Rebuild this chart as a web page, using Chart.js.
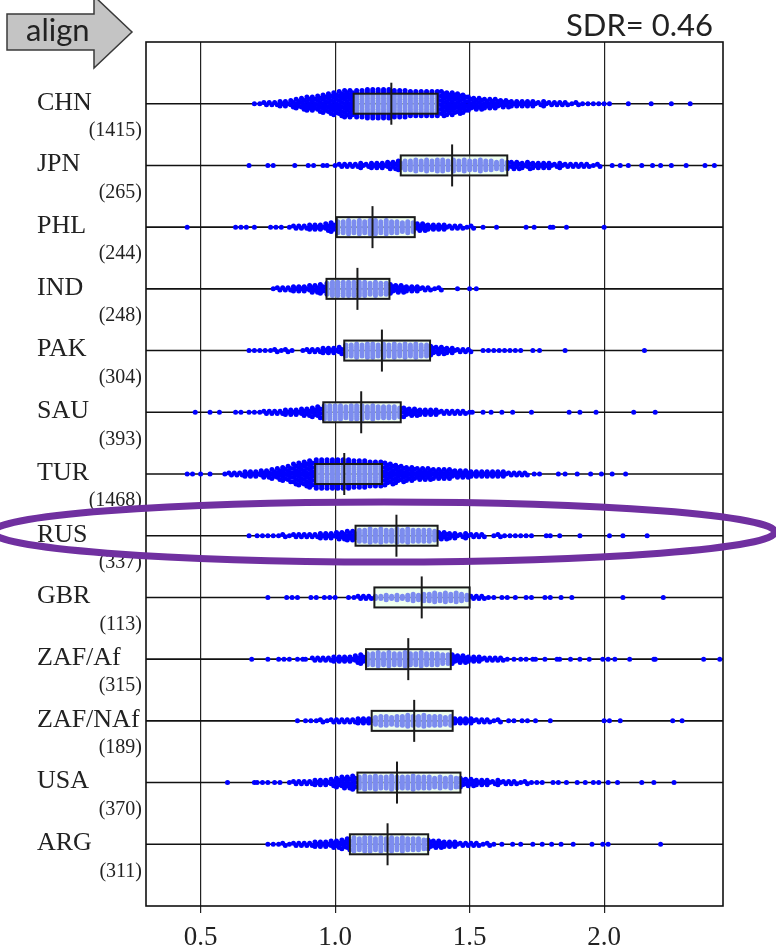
<!DOCTYPE html>
<html>
<head>
<meta charset="utf-8">
<script src="https://cdn.jsdelivr.net/npm/chart.js@4.4.1/dist/chart.umd.min.js"></script>
<style>
  html, body { margin: 0; padding: 0; background: #fff; }
  #wrap { position: relative; width: 776px; height: 948px; }
</style>
</head>
<body>
<div id="wrap"><canvas id="chart" width="776" height="948"></canvas></div>
<script>
// Row labels and sample sizes, top to bottom
const countries = ['CHN', 'JPN', 'PHL', 'IND', 'PAK', 'SAU', 'TUR', 'RUS', 'GBR', 'ZAF/Af', 'ZAF/NAf', 'USA', 'ARG'];
const sampleSizes = ['(1415)', '(265)', '(244)', '(248)', '(304)', '(393)', '(1468)', '(337)', '(113)', '(315)', '(189)', '(370)', '(311)'];

// Box plot stats per row
const q1      = [1.069, 1.244, 1.006, 0.968, 1.034, 0.956, 0.926, 1.076, 1.146, 1.115, 1.136, 1.083, 1.055];
const medians = [1.209, 1.435, 1.139, 1.083, 1.174, 1.097, 1.034, 1.228, 1.322, 1.272, 1.294, 1.230, 1.195];
const q3      = [1.381, 1.640, 1.296, 1.202, 1.353, 1.244, 1.174, 1.381, 1.500, 1.430, 1.437, 1.466, 1.346];

const xTicks = [0.5, 1.0, 1.5, 2.0];
const sdrLabel = 'SDR= 0.46';
const arrowLabel = 'align';

// Dot stacks: [value, number of dots stacked at that value]
const chnDots = [[0.70,1],[0.72,1],[0.74,2],[0.76,2],[0.78,2],[0.80,3],[0.82,3],[0.84,4],[0.86,5],[0.88,6],[0.90,7],[0.92,7],[0.94,8],[0.96,9],[0.98,10],[1.00,11],[1.02,12],[1.04,13],[1.06,13],[1.08,13],[1.10,13],[1.12,14],[1.14,14],[1.16,14],[1.18,14],[1.20,14],[1.22,13],[1.24,13],[1.26,13],[1.28,12],[1.30,12],[1.32,12],[1.34,12],[1.36,12],[1.38,12],[1.40,12],[1.42,11],[1.44,11],[1.46,10],[1.48,9],[1.50,7],[1.52,6],[1.54,6],[1.56,5],[1.58,5],[1.60,5],[1.62,4],[1.64,4],[1.66,3],[1.68,3],[1.70,3],[1.72,3],[1.74,3],[1.76,2],[1.78,3],[1.80,2],[1.82,2],[1.84,2],[1.86,2],[1.88,1],[1.90,2],[1.92,1],[1.94,1],[1.96,1],[1.98,1],[2.00,1],[2.02,1],[2.09,1],[2.175,1],[2.25,1],[2.32,1]];
const jpnDots = [[0.68,1],[0.75,1],[0.77,1],[0.85,1],[0.90,1],[0.92,1],[0.955,1],[0.97,1],[1.00,1],[1.02,2],[1.04,2],[1.06,2],[1.08,2],[1.10,3],[1.12,2],[1.14,3],[1.16,3],[1.18,3],[1.20,4],[1.22,4],[1.24,5],[1.26,5],[1.28,5],[1.30,6],[1.32,5],[1.34,6],[1.36,5],[1.38,6],[1.40,6],[1.42,5],[1.44,6],[1.46,5],[1.48,6],[1.50,5],[1.52,5],[1.54,6],[1.56,5],[1.58,5],[1.60,4],[1.62,5],[1.64,4],[1.66,4],[1.68,4],[1.70,3],[1.72,4],[1.74,3],[1.76,3],[1.78,3],[1.80,3],[1.82,2],[1.84,3],[1.86,2],[1.88,2],[1.90,2],[1.92,2],[1.94,2],[1.96,1],[1.98,2],[2.03,1],[2.06,1],[2.09,1],[2.14,1],[2.18,1],[2.21,1],[2.25,1],[2.305,1],[2.375,1],[2.41,1]];
const phlDots = [[0.45,1],[0.63,1],[0.65,1],[0.67,1],[0.70,1],[0.76,1],[0.78,1],[0.80,1],[0.83,1],[0.85,2],[0.87,2],[0.89,2],[0.91,3],[0.93,3],[0.95,3],[0.97,4],[0.99,5],[1.01,6],[1.03,6],[1.05,7],[1.07,6],[1.09,7],[1.11,6],[1.13,7],[1.15,7],[1.17,6],[1.19,7],[1.21,6],[1.23,6],[1.25,5],[1.27,6],[1.29,5],[1.31,4],[1.33,4],[1.35,3],[1.37,3],[1.39,3],[1.41,3],[1.43,2],[1.45,2],[1.47,2],[1.49,1],[1.51,2],[1.55,1],[1.60,1],[1.71,1],[1.74,1],[1.80,1],[1.81,1],[1.86,1],[2.00,1]];
const indDots = [[0.77,1],[0.79,2],[0.81,2],[0.83,2],[0.85,3],[0.87,3],[0.89,3],[0.91,4],[0.93,4],[0.95,5],[0.97,6],[0.99,7],[1.01,7],[1.03,7],[1.05,7],[1.07,7],[1.09,7],[1.11,7],[1.13,6],[1.15,7],[1.17,6],[1.19,6],[1.21,5],[1.23,4],[1.25,4],[1.27,3],[1.29,3],[1.31,3],[1.33,2],[1.35,2],[1.37,1],[1.39,2],[1.455,1],[1.50,1],[1.525,1]];
const pakDots = [[0.68,1],[0.70,1],[0.72,1],[0.74,1],[0.76,1],[0.78,2],[0.80,1],[0.82,2],[0.84,1],[0.88,1],[0.90,2],[0.92,2],[0.94,2],[0.96,3],[0.98,3],[1.00,3],[1.02,4],[1.04,6],[1.06,6],[1.08,7],[1.10,6],[1.12,7],[1.14,7],[1.16,6],[1.18,7],[1.20,6],[1.22,7],[1.24,6],[1.26,7],[1.28,6],[1.30,7],[1.32,6],[1.34,6],[1.36,5],[1.38,4],[1.40,4],[1.42,3],[1.44,3],[1.46,2],[1.48,2],[1.50,2],[1.55,1],[1.57,1],[1.59,1],[1.61,1],[1.63,1],[1.65,1],[1.67,1],[1.69,1],[1.735,1],[1.76,1],[1.855,1],[2.15,1]];
const sauDots = [[0.48,1],[0.535,1],[0.57,1],[0.63,1],[0.65,1],[0.68,1],[0.70,1],[0.72,1],[0.74,2],[0.76,2],[0.78,2],[0.80,2],[0.82,3],[0.84,3],[0.86,3],[0.88,4],[0.90,4],[0.92,5],[0.94,6],[0.96,7],[0.98,7],[1.00,7],[1.02,7],[1.04,6],[1.06,7],[1.08,7],[1.10,7],[1.12,6],[1.14,7],[1.16,6],[1.18,6],[1.20,6],[1.22,6],[1.24,5],[1.26,5],[1.28,4],[1.30,4],[1.32,3],[1.34,3],[1.36,3],[1.38,3],[1.40,2],[1.42,2],[1.44,2],[1.46,2],[1.48,2],[1.50,1],[1.51,1],[1.55,1],[1.58,1],[1.62,1],[1.66,1],[1.73,1],[1.87,1],[1.91,1],[1.97,1],[2.11,1],[2.19,1]];
const turDots = [[0.45,1],[0.47,1],[0.50,1],[0.535,1],[0.59,1],[0.61,2],[0.63,2],[0.65,2],[0.67,3],[0.69,3],[0.71,3],[0.73,4],[0.75,4],[0.77,5],[0.79,6],[0.81,7],[0.83,8],[0.85,10],[0.87,11],[0.89,12],[0.91,13],[0.93,14],[0.95,14],[0.97,14],[0.99,14],[1.01,14],[1.03,14],[1.05,14],[1.07,13],[1.09,13],[1.11,13],[1.13,12],[1.15,12],[1.17,12],[1.19,11],[1.21,10],[1.23,9],[1.25,8],[1.27,7],[1.29,7],[1.31,6],[1.33,6],[1.35,6],[1.37,5],[1.39,5],[1.41,5],[1.43,5],[1.45,4],[1.47,4],[1.49,4],[1.51,3],[1.53,3],[1.55,3],[1.57,3],[1.59,3],[1.61,3],[1.63,3],[1.65,2],[1.67,2],[1.69,2],[1.71,2],[1.74,1],[1.76,1],[1.83,1],[1.855,1],[1.90,1],[1.95,1],[1.99,1],[2.03,1],[2.08,1]];
const rusDots = [[0.68,1],[0.71,1],[0.73,1],[0.75,1],[0.77,1],[0.79,1],[0.81,2],[0.83,1],[0.85,2],[0.87,2],[0.89,2],[0.91,2],[0.93,2],[0.95,3],[0.97,3],[0.99,3],[1.01,4],[1.03,4],[1.05,5],[1.07,5],[1.09,6],[1.11,6],[1.13,7],[1.15,6],[1.17,7],[1.19,6],[1.21,6],[1.23,7],[1.25,6],[1.27,7],[1.29,6],[1.31,6],[1.33,6],[1.35,6],[1.37,5],[1.39,4],[1.41,4],[1.43,3],[1.45,3],[1.47,2],[1.49,3],[1.51,2],[1.53,2],[1.55,2],[1.59,1],[1.61,2],[1.63,1],[1.65,1],[1.67,1],[1.69,1],[1.71,1],[1.73,1],[1.785,1],[1.80,1],[1.835,1],[1.91,1],[2.02,1],[2.07,1],[2.16,1]];
const gbrDots = [[0.75,1],[0.82,1],[0.84,1],[0.86,1],[0.91,1],[0.93,1],[0.96,1],[0.98,1],[1.00,1],[1.05,1],[1.07,1],[1.09,2],[1.11,2],[1.13,2],[1.15,2],[1.17,2],[1.19,3],[1.21,2],[1.23,3],[1.25,2],[1.27,3],[1.29,4],[1.31,3],[1.33,4],[1.35,4],[1.37,5],[1.39,4],[1.41,5],[1.43,4],[1.45,5],[1.47,4],[1.49,3],[1.51,2],[1.53,2],[1.55,2],[1.57,1],[1.59,1],[1.62,1],[1.64,1],[1.67,1],[1.71,1],[1.73,1],[1.78,1],[1.80,1],[1.84,1],[1.88,1],[2.07,1],[2.22,1]];
const zafAfDots = [[0.69,1],[0.75,1],[0.79,1],[0.81,1],[0.83,1],[0.86,1],[0.88,1],[0.89,1],[0.92,2],[0.94,2],[0.96,2],[0.98,2],[1.00,3],[1.02,3],[1.04,3],[1.06,3],[1.08,4],[1.10,5],[1.12,6],[1.14,6],[1.16,7],[1.18,6],[1.20,7],[1.22,6],[1.24,6],[1.26,7],[1.28,6],[1.30,6],[1.32,7],[1.34,6],[1.36,6],[1.38,6],[1.40,5],[1.42,5],[1.44,5],[1.46,4],[1.48,4],[1.50,3],[1.52,3],[1.54,3],[1.56,2],[1.58,2],[1.60,2],[1.62,2],[1.64,1],[1.665,1],[1.69,1],[1.71,1],[1.735,1],[1.745,1],[1.78,1],[1.825,1],[1.835,1],[1.875,1],[1.91,1],[1.945,1],[1.995,1],[2.015,1],[2.04,1],[2.095,1],[2.185,1],[2.19,1],[2.37,1],[2.43,1]];
const zafNAfDots = [[0.86,1],[0.89,1],[0.91,1],[0.93,1],[0.95,2],[0.97,1],[0.99,2],[1.01,2],[1.03,2],[1.05,2],[1.07,2],[1.09,3],[1.11,3],[1.13,3],[1.15,4],[1.17,5],[1.19,5],[1.21,4],[1.23,5],[1.25,5],[1.27,6],[1.29,5],[1.31,5],[1.33,6],[1.35,5],[1.37,5],[1.39,5],[1.41,4],[1.43,5],[1.45,3],[1.47,3],[1.49,3],[1.51,3],[1.53,2],[1.55,2],[1.57,2],[1.59,1],[1.61,2],[1.645,1],[1.665,1],[1.695,1],[1.715,1],[1.745,1],[1.80,1],[2.00,1],[2.02,1],[2.06,1],[2.255,1],[2.29,1]];
const usaDots = [[0.60,1],[0.70,1],[0.71,1],[0.73,1],[0.75,1],[0.775,1],[0.795,1],[0.83,1],[0.85,2],[0.87,2],[0.89,2],[0.91,2],[0.93,3],[0.95,3],[0.97,3],[0.99,4],[1.01,5],[1.03,6],[1.05,6],[1.07,7],[1.09,6],[1.11,7],[1.13,6],[1.15,7],[1.17,6],[1.19,6],[1.21,7],[1.23,6],[1.25,6],[1.27,6],[1.29,7],[1.31,6],[1.33,6],[1.35,6],[1.37,5],[1.39,6],[1.41,5],[1.43,6],[1.45,5],[1.47,5],[1.49,4],[1.51,4],[1.53,3],[1.55,3],[1.57,3],[1.59,2],[1.61,3],[1.63,2],[1.65,2],[1.67,2],[1.69,1],[1.71,2],[1.73,1],[1.75,1],[1.77,1],[1.81,1],[1.83,1],[1.86,1],[1.90,1],[1.93,1],[1.96,1],[1.98,1],[2.015,1],[2.05,1],[2.14,1],[2.185,1],[2.26,1]];
const argDots = [[0.75,1],[0.77,1],[0.79,1],[0.81,2],[0.83,1],[0.85,2],[0.87,2],[0.89,2],[0.91,2],[0.93,3],[0.95,3],[0.97,3],[0.99,4],[1.01,4],[1.03,5],[1.05,6],[1.07,7],[1.09,6],[1.11,7],[1.13,7],[1.15,6],[1.17,7],[1.19,6],[1.21,7],[1.23,6],[1.25,7],[1.27,6],[1.29,6],[1.31,6],[1.33,5],[1.35,5],[1.37,4],[1.39,4],[1.41,3],[1.43,3],[1.45,3],[1.47,2],[1.49,2],[1.51,2],[1.53,2],[1.55,1],[1.57,2],[1.59,1],[1.62,1],[1.66,1],[1.69,1],[1.735,1],[1.77,1],[1.805,1],[1.84,1],[1.885,1],[1.955,1],[1.995,1],[2.015,1],[2.21,1]];

const rowDots = [chnDots, jpnDots, phlDots, indDots, pakDots, sauDots, turDots, rusDots, gbrDots, zafAfDots, zafNAfDots, usaDots, argDots];

// Layout constants
const PLOT = { left: 146, right: 723, top: 42, bottom: 906 };
const X_MIN = 0.297, X_MAX = 2.442;
const Y_MIN = -1, Y_MAX = 13;
const STACK_PX = 2.2;     // vertical gap between stacked dots
const SHIFT_PX = 1.3;     // small side shift outside the box so stacks merge
const PX_PER_ROW = (PLOT.bottom - PLOT.top) / (Y_MAX - Y_MIN);
const PX_PER_X = (PLOT.right - PLOT.left) / (X_MAX - X_MIN);

// Stack the dots of each value around the row line
function stackRow(stacks, row) {
    const pts = [];
    stacks.forEach(([value, n]) => {
        const inBox = value >= q1[row] && value <= q3[row];
        for (let k = 0; k < n; k++) {
            const offset = (k - (n - 1) / 2) * STACK_PX;
            const shift = (n > 1 && !inBox) ? (k % 2 ? SHIFT_PX : -SHIFT_PX) : 0;
            pts.push({ x: value + shift / PX_PER_X, y: row + offset / PX_PER_ROW });
        }
    });
    return pts;
}

const points = [];
rowDots.forEach((stacks, i) => points.push(...stackRow(stacks, i)));

const overlay = {
    id: 'overlay',
    beforeDatasetsDraw(chart) {
        const { ctx, chartArea: a, scales: { y } } = chart;
        ctx.save();
        ctx.strokeStyle = '#111';
        ctx.lineWidth = 1.6;
        countries.forEach((c, i) => {
            const py = y.getPixelForValue(i);
            ctx.beginPath();
            ctx.moveTo(a.left, py);
            ctx.lineTo(a.right, py);
            ctx.stroke();
        });
        ctx.restore();
    },
    afterDatasetsDraw(chart) {
        const { ctx, scales: { x, y } } = chart;
        ctx.save();
        countries.forEach((c, i) => {
            const py = y.getPixelForValue(i);
            const x1 = x.getPixelForValue(q1[i]);
            const x2 = x.getPixelForValue(q3[i]);
            ctx.fillStyle = 'rgba(225, 255, 225, 0.55)';
            ctx.fillRect(x1, py - 10, x2 - x1, 20);
            ctx.strokeStyle = '#1a1a1a';
            ctx.lineWidth = 2;
            ctx.strokeRect(x1, py - 10, x2 - x1, 20);
            const xm = x.getPixelForValue(medians[i]);
            ctx.beginPath();
            ctx.moveTo(xm, py - 21);
            ctx.lineTo(xm, py + 21);
            ctx.stroke();
        });
        ctx.restore();
    },
    afterDraw(chart) {
        const { ctx, chartArea: a, scales: { y } } = chart;
        ctx.save();

        // frame
        ctx.strokeStyle = '#111';
        ctx.lineWidth = 1.6;
        ctx.strokeRect(a.left, a.top, a.right - a.left, a.bottom - a.top);

        // row names and sample sizes
        ctx.fillStyle = '#222';
        countries.forEach((c, i) => {
            const py = y.getPixelForValue(i);
            ctx.font = '26px "Liberation Serif"';
            ctx.textAlign = 'left';
            ctx.textBaseline = 'middle';
            ctx.fillText(c, 37, py - 1);
            ctx.font = '20px "Liberation Serif"';
            ctx.textAlign = 'right';
            ctx.fillText(sampleSizes[i], 142, py + 27);
        });

        // "align" arrow
        ctx.beginPath();
        ctx.moveTo(7, 14);
        ctx.lineTo(94, 14);
        ctx.lineTo(94, -4);
        ctx.lineTo(132, 32);
        ctx.lineTo(94, 68);
        ctx.lineTo(94, 50);
        ctx.lineTo(7, 50);
        ctx.closePath();
        ctx.fillStyle = '#c4c4c4';
        ctx.fill();
        ctx.strokeStyle = '#3a3a3a';
        ctx.lineWidth = 1.5;
        ctx.stroke();
        ctx.fillStyle = '#222';
        ctx.font = '31px Lato';
        ctx.textAlign = 'left';
        ctx.textBaseline = 'alphabetic';
        ctx.fillText(arrowLabel, 26, 41);

        // SDR label
        ctx.textAlign = 'right';
        ctx.font = '31px Lato';
        ctx.fillText(sdrLabel, 713, 36);

        // purple highlight ellipse
        ctx.beginPath();
        ctx.ellipse(384, 532, 391, 30, 0, 0, Math.PI * 2);
        ctx.strokeStyle = 'rgb(112, 48, 160)';
        ctx.lineWidth = 7;
        ctx.stroke();

        ctx.restore();
    }
};

new Chart(document.getElementById('chart'), {
    type: 'scatter',
    data: {
        datasets: [{
            data: points,
            pointRadius: 2.5,
            pointHoverRadius: 2.5,
            pointBorderWidth: 0,
            backgroundColor: 'rgb(0, 0, 255)',
            borderColor: 'rgb(0, 0, 255)'
        }]
    },
    options: {
        responsive: false,
        animation: false,
        devicePixelRatio: 1,
        layout: {
            padding: { left: PLOT.left, right: 776 - PLOT.right, top: PLOT.top, bottom: 0 }
        },
        plugins: {
            legend: { display: false },
            tooltip: { enabled: false }
        },
        scales: {
            x: {
                type: 'linear',
                min: X_MIN,
                max: X_MAX,
                afterBuildTicks: (scale) => {
                    scale.ticks = xTicks.map(v => ({ value: v }));
                },
                afterFit: (scale) => {
                    scale.height = 948 - PLOT.bottom;
                },
                grid: {
                    color: '#222',
                    lineWidth: 1.2,
                    tickLength: 7
                },
                border: { display: false },
                ticks: {
                    color: '#222',
                    padding: 9,
                    font: { family: '"Liberation Serif"', size: 27 },
                    callback: (v) => Number(v).toFixed(1)
                }
            },
            y: {
                type: 'linear',
                min: Y_MIN,
                max: Y_MAX,
                reverse: true,
                display: false
            }
        }
    },
    plugins: [overlay]
});
</script>
</body>
</html>
